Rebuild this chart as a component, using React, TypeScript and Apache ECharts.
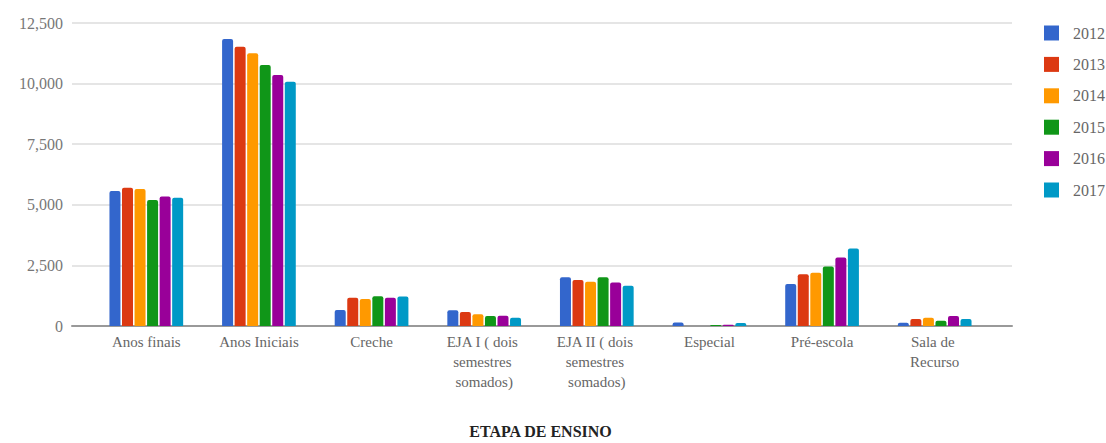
import React, { useEffect, useRef } from "react";
import * as echarts from "echarts";

const categories = [
  "Anos finais",
  "Anos Iniciais",
  "Creche",
  "EJA I ( dois semestres somados)",
  "EJA II ( dois semestres somados)",
  "Especial",
  "Pré-escola",
  "Sala de Recurso",
];

const years = ["2012", "2013", "2014", "2015", "2016", "2017"];

const v2012 = [5570, 11840, 660, 650, 2010, 140, 1730, 130];
const v2013 = [5700, 11520, 1170, 580, 1900, 0, 2140, 290];
const v2014 = [5650, 11250, 1110, 480, 1830, 0, 2200, 340];
const v2015 = [5200, 10770, 1230, 410, 2010, 40, 2450, 220];
const v2016 = [5340, 10350, 1170, 420, 1790, 50, 2830, 410];
const v2017 = [5290, 10080, 1220, 340, 1660, 120, 3200, 290];

const seriesValues = [v2012, v2013, v2014, v2015, v2016, v2017];
const colors = ["#3366cc", "#dc3912", "#ff9900", "#109618", "#990099", "#0099c6"];

const yTicks = [0, 2500, 5000, 7500, 10000, 12500];
const xAxisTitle = "ETAPA DE ENSINO";

const FONT = "'Liberation Serif', 'Times New Roman', serif";

export default function App() {
  const ref = useRef<HTMLDivElement>(null);

  useEffect(() => {
    if (!ref.current) return;
    const chart = echarts.init(ref.current, null, { renderer: "svg" });
    const yMax = yTicks[yTicks.length - 1];
    const yInterval = yTicks[1] - yTicks[0];

    chart.setOption({
      animation: false,
      backgroundColor: "#ffffff",
      color: colors,
      legend: {
        orient: "vertical",
        left: 1039,
        top: 20,
        itemWidth: 15,
        itemHeight: 15,
        itemGap: 15.4,
        icon: "rect",
        data: years,
        textStyle: {
          fontFamily: FONT,
          fontSize: 16,
          color: "#666",
          padding: [0, 0, 0, 9],
        },
      },
      grid: [
        { left: 72, right: 94, top: 23, bottom: 117, containLabel: false, outerBoundsMode: "none" },
        { left: 90, right: 115, top: 23, bottom: 117, containLabel: false, outerBoundsMode: "none" },
      ],
      xAxis: [
        {
          type: "category",
          gridIndex: 0,
          data: [""],
          axisLine: { show: true, lineStyle: { color: "#999", width: 2 } },
          axisTick: { show: false },
          axisLabel: { show: false },
          splitLine: { show: false },
        },
        {
          type: "category",
          gridIndex: 1,
          data: categories,
          axisLine: { show: false },
          axisTick: { show: false },
          splitLine: { show: false },
          axisLabel: {
            interval: 0,
            margin: 6,
            fontFamily: FONT,
            fontSize: 15,
            color: "#666",
            width: 90,
            overflow: "break",
            lineHeight: 20,
          },
          name: xAxisTitle,
          nameLocation: "middle",
          nameGap: 97,
          nameTextStyle: {
            fontFamily: FONT,
            fontSize: 16,
            fontWeight: "bold",
            color: "#222",
          },
        },
      ],
      yAxis: [
        {
          type: "value",
          gridIndex: 0,
          min: 0,
          max: yMax,
          interval: yInterval,
          axisLine: { show: false },
          axisTick: { show: false },
          splitLine: { show: true, lineStyle: { color: "#dcdcdc", width: 1.5 } },
          axisLabel: {
            margin: 9,
            fontFamily: FONT,
            fontSize: 16,
            color: "#777",
            formatter: (v: number) => v.toLocaleString("en-US"),
          },
        },
        {
          type: "value",
          gridIndex: 1,
          min: 0,
          max: yMax,
          interval: yInterval,
          show: false,
          splitLine: { show: false },
        },
      ],
      series: years.map((y, i) => ({
        name: y,
        type: "bar",
        xAxisIndex: 1,
        yAxisIndex: 1,
        data: seriesValues[i],
        barWidth: 11,
        barGap: "14%",
        itemStyle: { color: colors[i], borderRadius: [2, 2, 0, 0] },
      })),
    });

    return () => chart.dispose();
  }, []);

  return (
    <div
      ref={ref}
      style={{ position: "fixed", left: 0, top: 0, width: 1106, height: 443 }}
    />
  );
}
